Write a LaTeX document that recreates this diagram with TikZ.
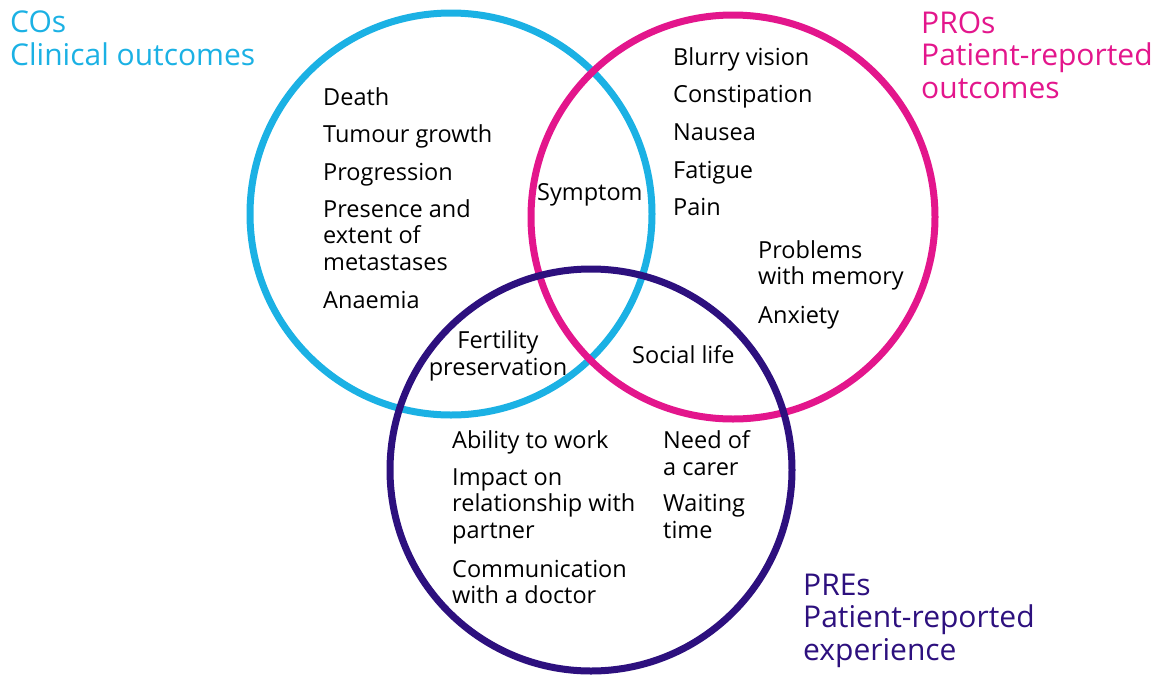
\documentclass[tikz,border=0pt]{standalone}
\usepackage{fontspec}
\setmainfont{Open Sans}
\definecolor{coblue}{HTML}{1BB1E4}
\definecolor{promag}{HTML}{E3168C}
\definecolor{prepurple}{HTML}{2D107E}
\begin{document}
\begin{tikzpicture}[x=1pt, y=-1pt,
    ring/.style={line width=7pt},
    item/.style={anchor=base west, inner sep=0pt, align=left,
      font=\fontsize{23.5}{26.5}\selectfont},
    title/.style={anchor=base west, inner sep=0pt, align=left,
      font=\fontsize{30}{32.5}\selectfont}]
    \useasboundingbox (0,0) rectangle (1162,675);
    % the three circles
    \coordinate (co) at (451,214);
    \coordinate (pro) at (733,217);
    \coordinate (pre) at (591,470);
    \draw[ring, color=coblue] (co) circle (201);
    \draw[ring, color=promag] (pro) circle (202);
    \draw[ring, color=prepurple] (pre) circle (201);
    % titles (placed at the baseline of their last line)
    \node (cotitle) [title, text=coblue] at (10,65) {COs\\Clinical outcomes};
    \node (protitle) [title, text=promag] at (921,98) {PROs\\Patient-reported\\outcomes};
    \node (pretitle) [title, text=prepurple] at (803,660) {PREs\\Patient-reported\\experience};
    % clinical outcomes
    \node (death) [item] at (323,105) {Death};
    \node (tumour) [item] at (323,142) {Tumour growth};
    \node (progress) [item] at (323,180) {Progression};
    \node (metast) [item] at (323,270) {Presence and\\extent of\\metastases};
    \node (anaemia) [item] at (323,308) {Anaemia};
    % patient-reported outcomes
    \node (symptom) [item] at (537,200) {Symptom};
    \node (blurry) [item] at (673,65) {Blurry vision};
    \node (constip) [item] at (673,102) {Constipation};
    \node (nausea) [item] at (673,140) {Nausea};
    \node (fatigue) [item] at (673,178) {Fatigue};
    \node (pain) [item] at (673,215) {Pain};
    \node (memory) [item] at (758,284.5) {Problems\\with memory};
    \node (anxiety) [item] at (758,323) {Anxiety};
    % overlaps
    \node (fertility) [item, anchor=base, align=center] at (498,375) {Fertility\\preservation};
    \node (social) [item] at (632,363) {Social life};
    % patient-reported experience
    \node (work) [item] at (452,448) {Ability to work};
    \node (partner) [item] at (452,538) {Impact on\\relationship with\\partner};
    \node (doctor) [item] at (452,603.5) {Communication\\with a doctor};
    \node (carer) [item] at (663,475) {Need of\\a carer};
    \node (waiting) [item] at (663,538) {Waiting\\time};
\end{tikzpicture}
\end{document}
